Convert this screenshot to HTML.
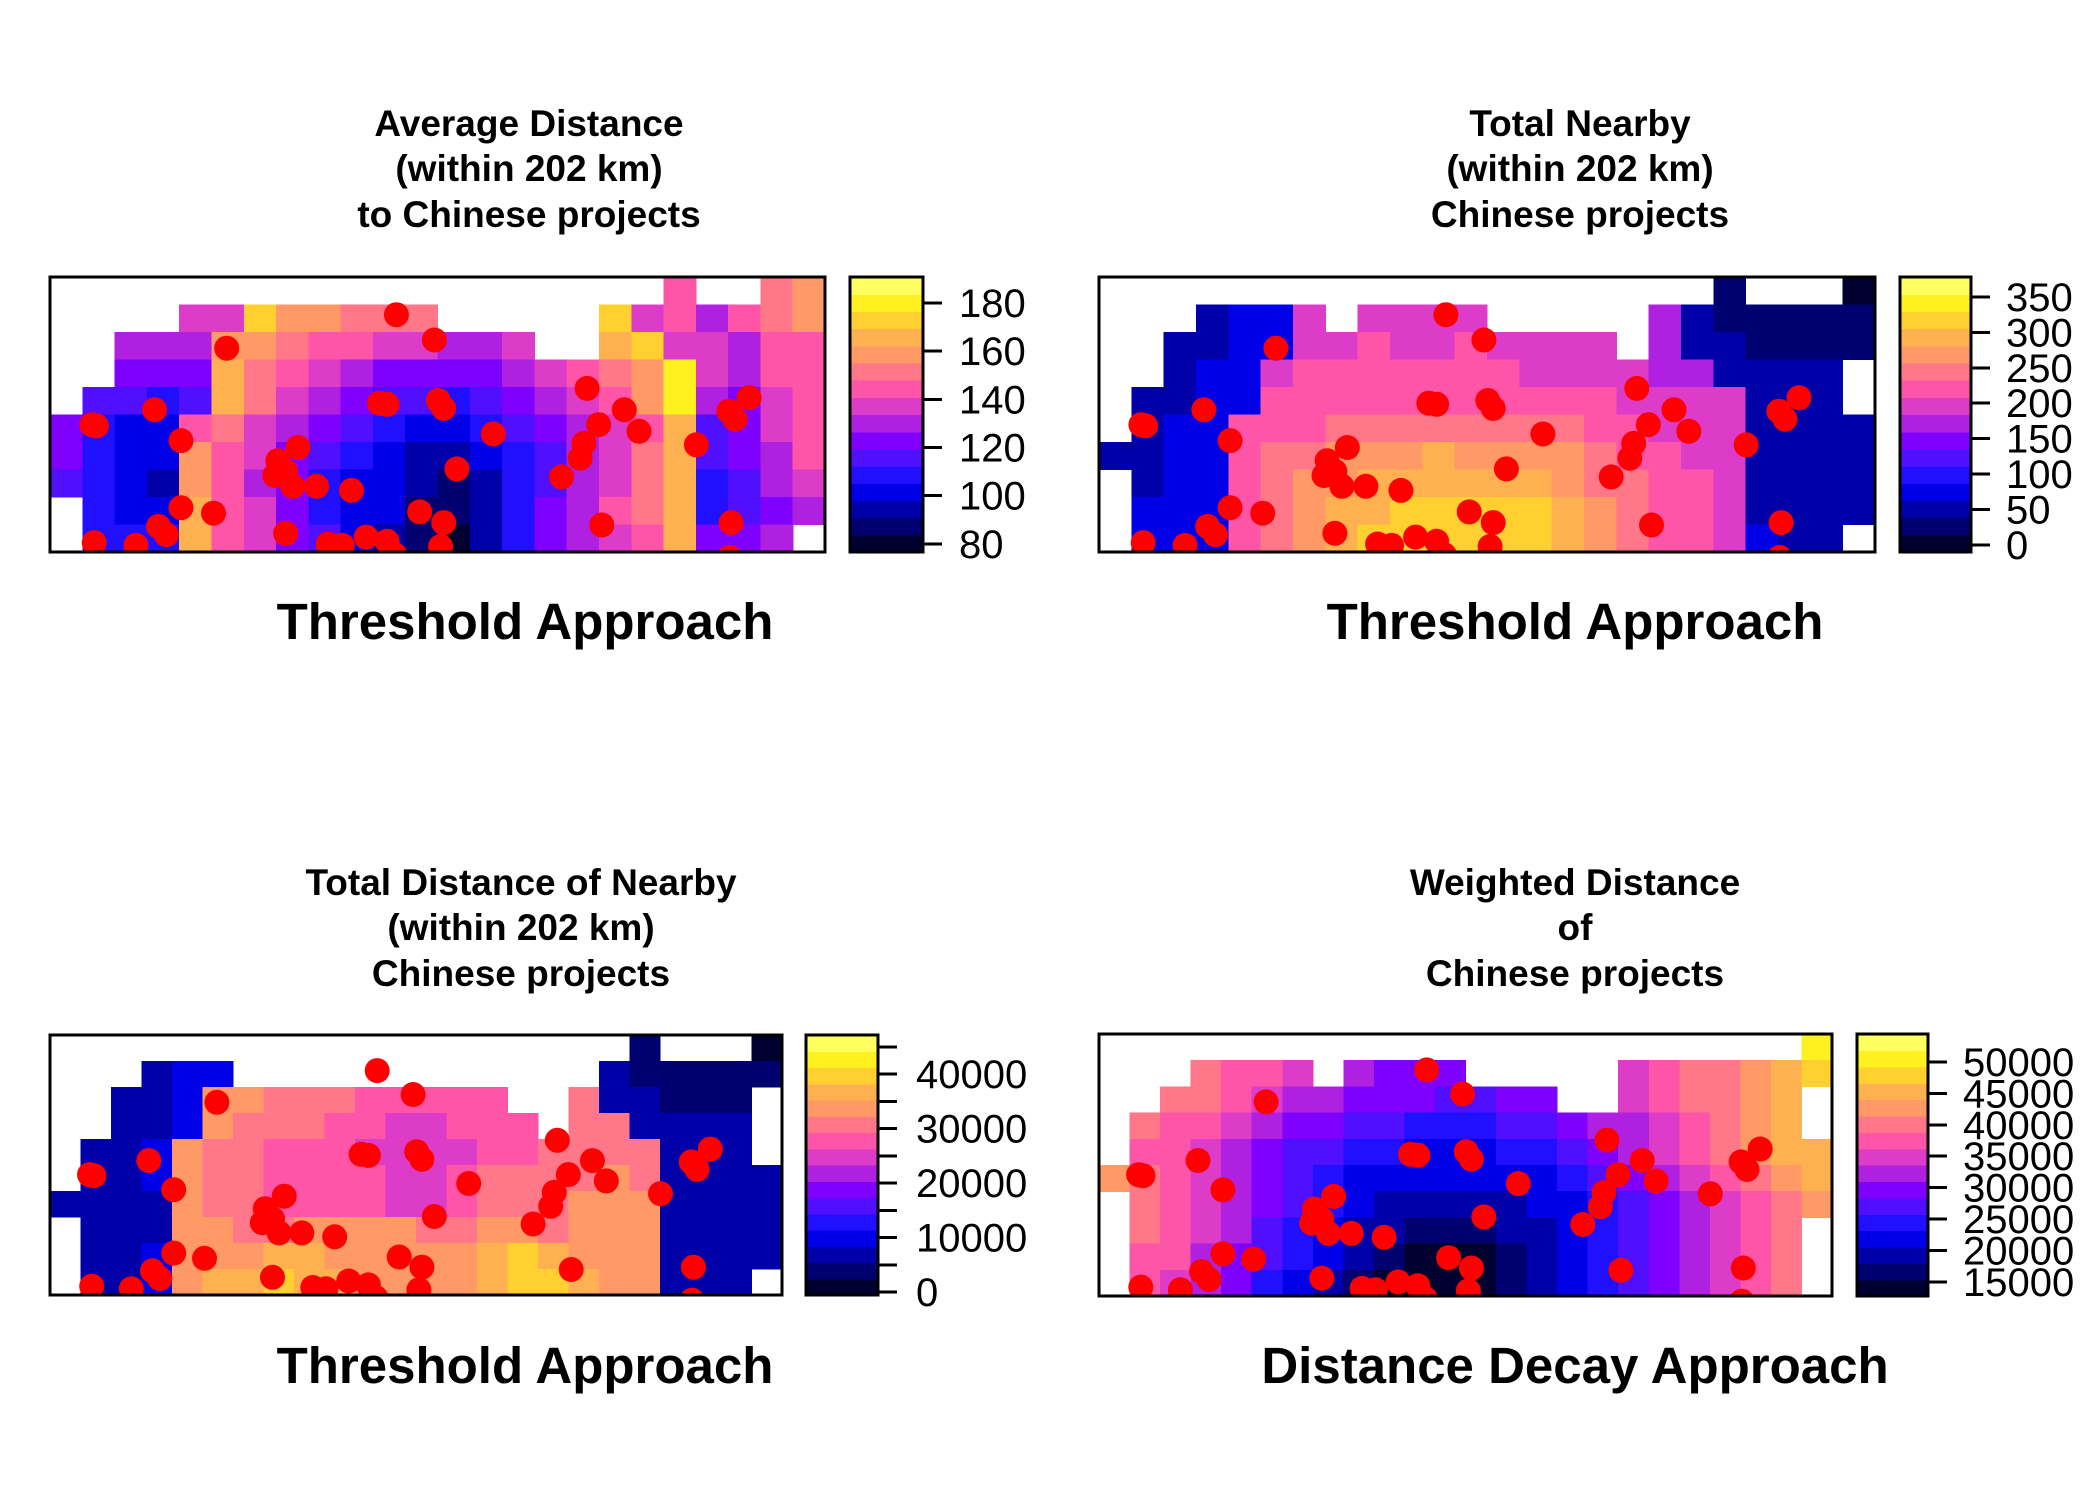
<!DOCTYPE html>
<html><head><meta charset="utf-8">
<style>
html,body{margin:0;padding:0;background:#fff;}
svg{display:block;font-family:"Liberation Sans",Arial,sans-serif;}
</style></head>
<body>
<svg id="fig" width="2100" height="1500" viewBox="0 0 2100 1500" xmlns="http://www.w3.org/2000/svg"></svg>
<script>
// ---- Shared data ----
// Project locations (percent of map extent: x from west, y from north)
const pointX = [5.4,6.0,13.5,16.9,22.8,44.7,49.6,42.5,43.5,50.1,50.8,57.2,52.5,32.0,29.4,29.0,30.4,31.3,34.4,38.9,16.9,14.0,15.0,21.1,5.7,11.1,30.4,35.9,37.7,40.8,43.5,47.7,50.8,50.4,69.3,70.8,68.9,68.4,66.0,76.0,74.1,71.2,83.4,87.6,88.4,90.2,87.9,87.7,44.5];
const pointY = [53.7,54.1,48.3,59.5,25.9,13.7,22.9,45.9,46.3,44.9,47.8,57.1,69.8,62.0,66.8,72.2,70.7,76.1,76.1,77.6,83.9,90.7,93.7,85.9,96.6,97.6,93.2,97.1,97.6,94.6,96.1,85.4,89.3,98.0,40.5,53.7,60.5,65.9,72.7,56.1,48.3,90.2,61.0,48.8,51.7,43.9,89.3,102,101];
// 16-class colour scale (low -> high)
const palette = ["#000030","#000070","#0000a8","#0000e8","#2010ff","#5010ff","#8000ff","#b020e0","#dd3cc8","#ff55a8","#ff7788","#ff9966","#ffb050","#ffd030","#fff020","#ffff60"];

// ---- Panel 1: Average distance (class per grid cell, '.' = no data) ----
const grid1 = [
"...................9..ab",
"....88dbbaaa.....d8979ab",
"..777bba9988778..cd88799",
"..666ca9876666789abe8799",
".5545ca87655456789be7689",
"64339a8765433456789c5689",
"6433b9865432234578ac5679",
"5432b9764332124578ac4578",
".433c9864331124679ac4567",
".444c98653210246789c667."
];
const ticks1 = [80,100,120,140,160,180];
const range1 = [76.6,190.8];
// ---- Panel 2: Total nearby ----
const grid2 = [
"...................1...0",
"...2338.8888.....7211111",
".."+"22338898898888"+"."+"7221111",
".."+"2338"+"9999999"+"8888"+"77"+"2222"+".",
"."+"2233"+"99999999999"+"8888"+"222.",
"."+"233"+"999"+"aaaaaaaa"+"99"+"888"+"2222",
"2233"+"9aabbbcbbbba"+"99"+"88"+"2222",
"."+"233"+"9abbccccccba"+"a998"+"2222",
"."+"333"+"9abccdddddcb"+"a998"+"2222",
"."+"333"+"9abcddddddcb"+"a998"+"322."
];
const ticks2 = [0,50,100,150,200,250,300,350];
const range2 = [-9.8,378];
// ---- Panel 3: Total distance of nearby ----
const grid3 = [
"..................."+"1"+"...0",
"..."+"233"+"............"+"2"+"11111",
".."+"223"+"bbaaa99999"+".."+"a"+"22"+"111"+".",
".."+"223"+"baaa9988999"+"."+"aa"+"2222"+".",
"."+"223"+"baa999888899"+"aaaa"+"222.",
"."+"223"+"baa9999889aaaaba"+"2222",
"2222"+"baa9999889aaabbb"+"2222",
"."+"222"+"bbaabbbbaabbabbb"+"2222",
"."+"223"+"bbbccbbbbbcdcbbb"+"2222",
"."+"223"+"bccdccbbbbcddcbb"+"222."
];
const ticks3 = [0,10000,20000,30000,40000];
const minorTicks3 = [5000,15000,25000,35000,45000];
const range3 = [-550,47180];
// ---- Panel 4: Weighted distance ----
const grid4 = [
"......................."+"e",
"..."+"a998"+"."+"7666"+"....."+"89aabcd",
".."+"aa9877666556 6".replace(' ','')+".."+"89aabc"+".",
"."+"a99876655444556778 9abc".replace(' ','')+".",
"."+"99876554433344567 89abcc".replace(' ',''),
"ba98765433333334567 89abc".replace(' ',''),
"."+"a98765432222233456789ab",
"."+"a98754322111223456789a"+".",
"."+"9976543210001234567 89a".replace(' ','')+".",
"."+"9876432100001234567 89a".replace(' ','')+"."
];
const ticks4 = [15000,20000,25000,30000,35000,40000,45000,50000];
const range4 = [12770,54430];

const panels = [
 {id:"avg-distance", grid:grid1, ticks:ticks1, minor:[], range:range1,
  box:[50,277,775,275], leg:[850,277,73,275], labelX:959,
  title:["Average Distance","(within 202 km)","to Chinese projects"], tcx:529, tby:[136,181,227],
  sub:"Threshold Approach", scx:525, sby:639},
 {id:"total-nearby", grid:grid2, ticks:ticks2, minor:[], range:range2,
  box:[1099,277,776,275], leg:[1900,277,71,275], labelX:2006,
  title:["Total Nearby","(within 202 km)","Chinese projects"], tcx:1580, tby:[136,181,227],
  sub:"Threshold Approach", scx:1575, sby:639},
 {id:"total-distance", grid:grid3, ticks:ticks3, minor:minorTicks3, range:range3,
  box:[50,1035,732,260], leg:[806,1035,72,260], labelX:916,
  title:["Total Distance of Nearby","(within 202 km)","Chinese projects"], tcx:521, tby:[895,940,986],
  sub:"Threshold Approach", scx:525, sby:1383},
 {id:"weighted-distance", grid:grid4, ticks:ticks4, minor:[], range:range4,
  box:[1099,1034,733,262], leg:[1857,1034,71,262], labelX:1963,
  title:["Weighted Distance","of","Chinese projects"], tcx:1575, tby:[895,940,986],
  sub:"Distance Decay Approach", scx:1575, sby:1383}
];

const NS="http://www.w3.org/2000/svg";
const svg=document.getElementById("fig");
function mk(tag,attrs,parent){const e=document.createElementNS(NS,tag);for(const k in attrs)e.setAttribute(k,attrs[k]);(parent||svg).appendChild(e);return e;}

panels.forEach((p,pi)=>{
  const g=mk("g",{});
  
  
  const [bx,by,bw,bh]=p.box;
  const rows=p.grid.length, cols=24;
  const xScale=c=>bx+c/cols*bw;
  const yScale=r=>by+r/rows*bh;
  const clip=mk("clipPath",{id:"clip"+pi},g);
  mk("rect",{x:bx,y:by,width:bw,height:bh},clip);
  const mapG=mk("g",{"clip-path":"url(#clip"+pi+")","shape-rendering":"crispEdges"},g);
  
  
  p.grid.forEach((row0,r)=>{
    const row=(row0+"........................").slice(0,cols);
    for(let c=0;c<cols;c++){
      const ch=row[c]; if(ch==='.')continue;
      const v=parseInt(ch,16); if(isNaN(v))continue;
      const x0=xScale(c),x1=xScale(c+1),y0=yScale(r),y1=yScale(r+1);
      const cell=mk("rect",{x:x0.toFixed(1),y:y0.toFixed(1),width:(x1-x0+0.6).toFixed(1),height:(y1-y0+0.6).toFixed(1),fill:palette[v]},mapG);
      
      
    }
  });
  const ptG=mk("g",{"clip-path":"url(#clip"+pi+")"},g);
  pointX.forEach((px,i)=>{
    const d=mk("circle",{cx:(bx+px/100*bw).toFixed(1),cy:(by+pointY[i]/100*bh).toFixed(1),r:12.5,fill:"#ff0000"},ptG);
    
    
  });
  const frame=mk("rect",{x:bx,y:by,width:bw,height:bh,fill:"none",stroke:"#000","stroke-width":3},g);
  
  
  // legend
  const [lx,ly,lw,lh]=p.leg;
  const tickEnd=lx+lw+19;
  const lg=mk("g",{"shape-rendering":"crispEdges"},g);
  
  
  const n=palette.length;
  palette.forEach((col,i)=>{
    const y0=ly+lh-(i+1)/n*lh;
    const s=mk("rect",{x:lx,y:y0.toFixed(1),width:lw,height:(lh/n+0.6).toFixed(1),fill:col},lg);
    
    
  });
  mk("rect",{x:lx,y:ly,width:lw,height:lh,fill:"none",stroke:"#000","stroke-width":3},lg);
  const vy=v=>ly+lh-(v-p.range[0])/(p.range[1]-p.range[0])*lh;
  p.minor.forEach(v=>{mk("line",{x1:lx+lw,x2:tickEnd,y1:vy(v),y2:vy(v),stroke:"#000","stroke-width":3},lg);});
  p.ticks.forEach(v=>{
    mk("line",{x1:lx+lw,x2:tickEnd,y1:vy(v),y2:vy(v),stroke:"#000","stroke-width":3},lg);
    const t=mk("text",{x:p.labelX,y:vy(v)+14,"font-size":40,fill:"#000"},lg);
    t.textContent=String(v);
    
    
  });
  // titles
  p.title.forEach((line,i)=>{
    const t=mk("text",{x:p.tcx,y:p.tby[i],"font-size":37,"font-weight":"bold","text-anchor":"middle",fill:"#000"},g);
    t.textContent=line;
    
    
  });
  const st=mk("text",{x:p.scx,y:p.sby,"font-size":51,"font-weight":"bold","text-anchor":"middle",fill:"#000"},g);
  st.textContent=p.sub;
  
  
});
</script>
</body></html>
